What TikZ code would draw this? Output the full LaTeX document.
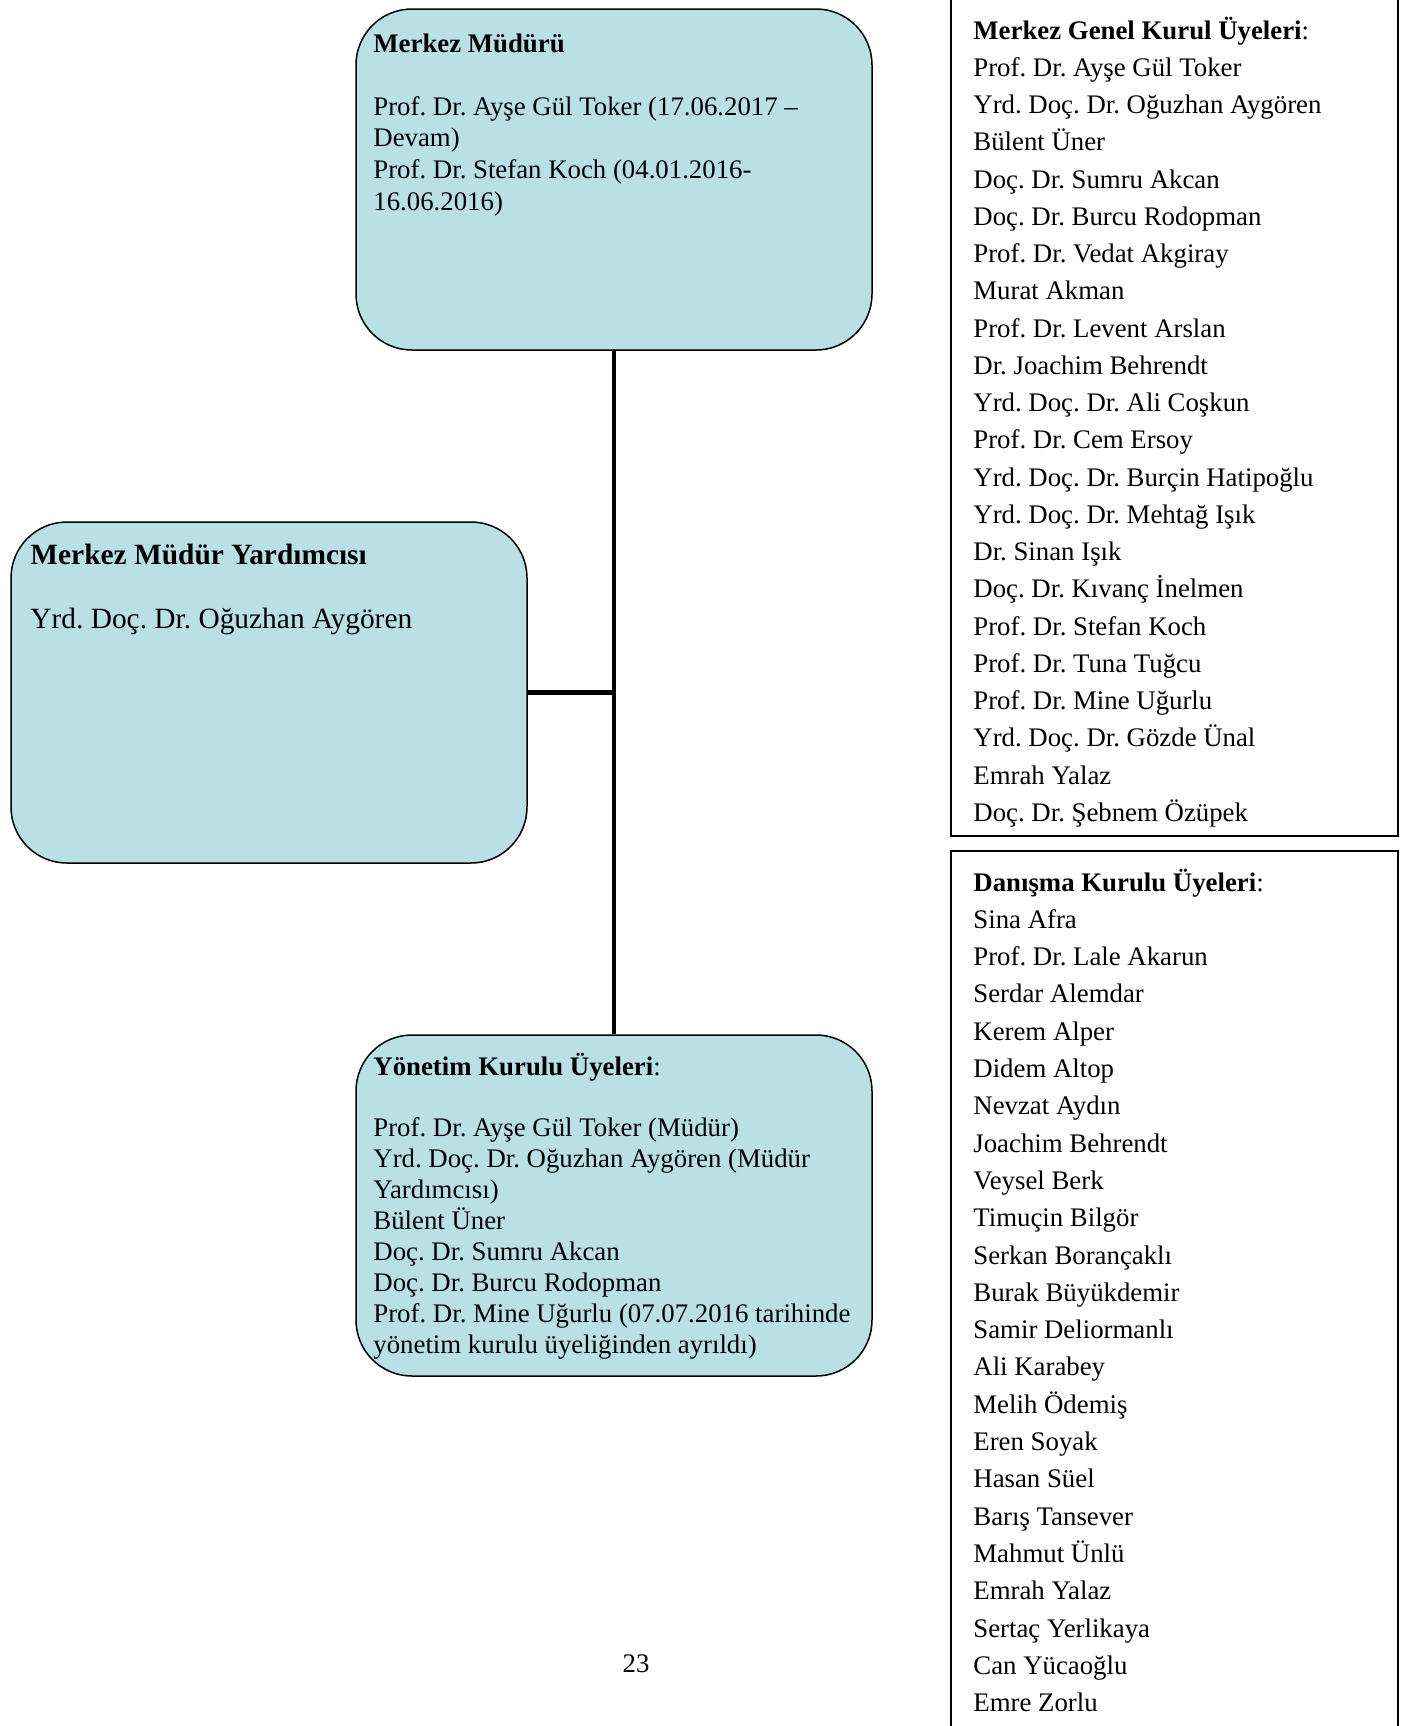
\documentclass[tikz,border=0pt]{standalone}
\usepackage{fontspec}
\setmainfont{Liberation Serif}
\frenchspacing
\definecolor{boxfill}{RGB}{185,224,228}
\begin{document}
\frenchspacing
\begin{tikzpicture}[x=0.5pt,y=-0.5pt,
  rbox/.style={draw=black, line width=0.75pt, fill=boxfill, rounded corners=28pt, inner sep=0pt, minimum width=258pt, minimum height=170.5pt},
  listbox/.style={draw=black, line width=1pt, inner sep=0pt, minimum width=223.5pt},
  lbl/.style={anchor=base west, inner sep=0pt, font=\fontsize{13.4}{16}\selectfont},
  biglbl/.style={anchor=base west, inner sep=0pt, font=\fontsize{14.7}{17}\selectfont},
  conn/.style={line width=2.25pt}]
\useasboundingbox (0,0) rectangle (1417,1726);

% boxes
\node[rbox] (mud) at (614,179.5) {};
\node[rbox] (yard) at (269,692.5) {};
\node[rbox] (yon) at (614,1205.5) {};
\node[listbox, minimum height=420.5pt] (genel) at (1174.5,415.5) {};
\node[listbox, minimum height=444.5pt] (dan) at (1174.5,1295.5) {};

% connectors
\draw[conn] (mud.south) -- (yon.north);
\draw[conn] (yard.east) -- (yard.east -| mud.south);

% Merkez Müdürü
\node[lbl] (m0) at (373,52) {\bfseries Merkez Müdürü};
\foreach [count=\i from 0] \t in {Prof. Dr. Ayşe Gül Toker (17.06.2017 –,Devam),Prof. Dr. Stefan Koch (04.01.2016-,16.06.2016)}
  \node[lbl] (m\i l) at (373,115+31.7*\i) {\t};

% Merkez Müdür Yardımcısı
\node[biglbl] (y0) at (30,564) {\bfseries Merkez Müdür Yardımcısı};
\node[biglbl] (y1) at (30,628) {Yrd. Doç. Dr. Oğuzhan Aygören};

% Yönetim Kurulu
\node[lbl] (k0) at (373,1075) {{\bfseries Yönetim Kurulu Üyeleri}:};
\foreach [count=\i from 0] \t in {Prof. Dr. Ayşe Gül Toker (Müdür),Yrd. Doç. Dr. Oğuzhan Aygören (Müdür,Yardımcısı),Bülent Üner,Doç. Dr. Sumru Akcan,Doç. Dr. Burcu Rodopman,Prof. Dr. Mine Uğurlu (07.07.2016 tarihinde,yönetim kurulu üyeliğinden ayrıldı)}
  \node[lbl] (k\i l) at (373,1136+31*\i) {\t};

% Merkez Genel Kurul
\node[lbl] (g0) at (973,39) {{\bfseries Merkez Genel Kurul Üyeleri}:};
\foreach [count=\i from 1] \t in {Prof. Dr. Ayşe Gül Toker,Yrd. Doç. Dr. Oğuzhan Aygören,Bülent Üner,Doç. Dr. Sumru Akcan,Doç. Dr. Burcu Rodopman,Prof. Dr. Vedat Akgiray,Murat Akman,Prof. Dr. Levent Arslan,Dr. Joachim Behrendt,Yrd. Doç. Dr. Ali Coşkun,Prof. Dr. Cem Ersoy,Yrd. Doç. Dr. Burçin Hatipoğlu,Yrd. Doç. Dr. Mehtağ Işık,Dr. Sinan Işık,Doç. Dr. Kıvanç İnelmen,Prof. Dr. Stefan Koch,Prof. Dr. Tuna Tuğcu,Prof. Dr. Mine Uğurlu,Yrd. Doç. Dr. Gözde Ünal,Emrah Yalaz,Doç. Dr. Şebnem Özüpek}
  \node[lbl] (g\i) at (973,39+37.25*\i) {\t};

% Danışma Kurulu
\node[lbl] (d0) at (973,891) {{\bfseries Danışma Kurulu Üyeleri}:};
\foreach [count=\i from 1] \t in {Sina Afra,Prof. Dr. Lale Akarun,Serdar Alemdar,Kerem Alper,Didem Altop,Nevzat Aydın,Joachim Behrendt,Veysel Berk,Timuçin Bilgör,Serkan Borançaklı,Burak Büyükdemir,Samir Deliormanlı,Ali Karabey,Melih Ödemiş,Eren Soyak,Hasan Süel,Barış Tansever,Mahmut Ünlü,Emrah Yalaz,Sertaç Yerlikaya,Can Yücaoğlu,Emre Zorlu}
  \node[lbl] (d\i) at (973,891+37.3*\i) {\t};

% page number
\node[lbl, anchor=base] (pg) at (636,1672) {23};
\end{tikzpicture}
\end{document}
